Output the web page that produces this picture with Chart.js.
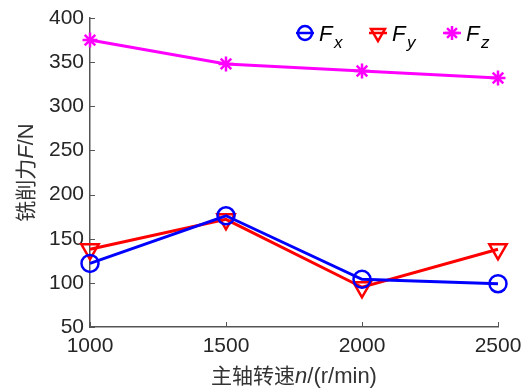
<!DOCTYPE html>
<html>
<head>
<meta charset="utf-8">
<script src="https://cdn.jsdelivr.net/npm/chart.js@4"></script>
<style>
  html, body { margin:0; padding:0; background:#fff; }
  #wrap { width:522px; height:391px; }
</style>
</head>
<body>
<div id="wrap"><canvas id="forceChart"></canvas></div>
<script>
const speeds = [1000, 1500, 2000, 2500];
const fx = [122, 176, 104, 99];
const fy = [138, 172, 95, 138];
const fz = [375, 348, 340, 332];
const yTicks = [50, 400, 50]; // min, max, step
const xTicks = [1000, 2500, 500];

const AXIS = '#262626';
const FONT = '"Liberation Sans", Arial, sans-serif';
const CJK = '"Noto Sans CJK SC", "Liberation Sans", sans-serif';

function pts(vals){ return speeds.map((s,i)=>({x:s, y:vals[i]})); }

// inward tick marks + rich-text titles + legend
const decor = {
  id: 'decor',
  afterDraw(chart){
    const c = chart.ctx, xs = chart.scales.x, ys = chart.scales.y, a = chart.chartArea;
    c.save();
    c.strokeStyle = '#555'; c.lineWidth = 1;
    for (let v = xTicks[0]; v <= xTicks[1]; v += xTicks[2]) {
      const px = Math.round(xs.getPixelForValue(v)) + 0.5;
      c.beginPath(); c.moveTo(px, a.bottom); c.lineTo(px, a.bottom - 5); c.stroke();
    }
    for (let v = yTicks[0]; v <= yTicks[1]; v += yTicks[2]) {
      const py = Math.round(ys.getPixelForValue(v)) + 0.5;
      c.beginPath(); c.moveTo(a.left, py); c.lineTo(a.left + 5, py); c.stroke();
    }

    // x title
    c.fillStyle = '#333'; c.textBaseline = 'alphabetic';
    const parts = [['主轴转速', '21px ' + CJK], ['n', 'italic 22px ' + FONT], ['/(r/min)', '22px ' + FONT]];
    let w = 0;
    parts.forEach(p => { c.font = p[1]; w += c.measureText(p[0]).width; });
    let x = (a.left + a.right) / 2 - w / 2;
    const yb = 383;
    parts.forEach(p => { c.font = p[1]; c.textAlign = 'left'; c.fillText(p[0], x, yb); x += c.measureText(p[0]).width; });

    // y title (rotated)
    const yparts = [['铣削力', '21px ' + CJK], ['F', 'italic 22px ' + FONT], ['/N', '22px ' + FONT]];
    w = 0;
    yparts.forEach(p => { c.font = p[1]; w += c.measureText(p[0]).width; });
    c.save();
    c.translate(33, (a.top + a.bottom) / 2);
    c.rotate(-Math.PI / 2);
    x = -w / 2;
    yparts.forEach(p => { c.font = p[1]; c.fillText(p[0], x, 0); x += c.measureText(p[0]).width; });
    c.restore();

    // legend
    const items = [
      { color:'#0000ff', style:'circle', sub:'x', mx:305, r:7, rot:0 },
      { color:'#ff0000', style:'triangle', sub:'y', mx:378, r:8, rot:180 },
      { color:'#ff00ff', style:'star', sub:'z', mx:452, r:7, rot:0 }
    ];
    const ly = 33;
    items.forEach(it => {
      c.strokeStyle = it.color; c.lineWidth = 2.5;
      c.beginPath(); c.moveTo(it.mx - 9, ly); c.lineTo(it.mx + 9, ly); c.stroke();
      c.fillStyle = 'rgba(0,0,0,0)';
      Chart.helpers.drawPoint(c, { pointStyle: it.style, radius: it.r, rotation: it.rot, borderWidth: 2.5 }, it.mx, ly);
      c.fillStyle = '#000';
      c.font = 'italic 22px ' + FONT; c.textAlign = 'left';
      c.fillText('F', it.mx + 14, ly + 8);
      c.font = 'italic 17px ' + FONT;
      c.fillText(it.sub, it.mx + 29, ly + 15);
    });
    c.restore();
  }
};

function ds(label, vals, color, style, r, rot){
  return {
    label, data: pts(vals), borderColor: color, backgroundColor: 'rgba(0,0,0,0)',
    borderWidth: 3, pointStyle: style, pointRadius: r, pointHoverRadius: r,
    pointRotation: rot, pointBorderWidth: 2.5, pointBackgroundColor: 'rgba(0,0,0,0)',
    pointBorderColor: color, tension: 0, fill: false, clip: false
  };
}

new Chart(document.getElementById('forceChart'), {
  type: 'line',
  data: {
    datasets: [
      ds('Fx', fx, '#0000ff', 'circle', 8.5, 0),
      ds('Fy', fy, '#ff0000', 'triangle', 10, 180),
      ds('Fz', fz, '#ff00ff', 'star', 7.5, 0)
    ]
  },
  options: {
    responsive: true, maintainAspectRatio: false, animation: false,
    layout: { padding: { top: 18, right: 24, bottom: 0, left: 0 } },
    plugins: { legend: { display: false }, tooltip: { enabled: false } },
    scales: {
      x: {
        type: 'linear', min: xTicks[0], max: xTicks[1],
        ticks: { stepSize: xTicks[2], color: AXIS, font: { family: FONT, size: 21 }, padding: 7, maxRotation: 0,
                 callback: v => String(v) },
        grid: { display: true, drawOnChartArea: false, drawTicks: false },
        border: { color: '#555', width: 1.5 },
        afterFit: s => { s.height = 64; s.paddingRight = 0; s.paddingLeft = 0; }
      },
      y: {
        min: yTicks[0], max: yTicks[1],
        ticks: { stepSize: yTicks[2], color: AXIS, font: { family: FONT, size: 21 }, padding: 6 },
        grid: { display: true, drawOnChartArea: false, drawTicks: false },
        border: { color: '#555', width: 1.5 },
        afterFit: s => { s.width = 90; s.paddingTop = 0; s.paddingBottom = 0; }
      }
    }
  },
  plugins: [decor]
});
</script>
</body>
</html>
